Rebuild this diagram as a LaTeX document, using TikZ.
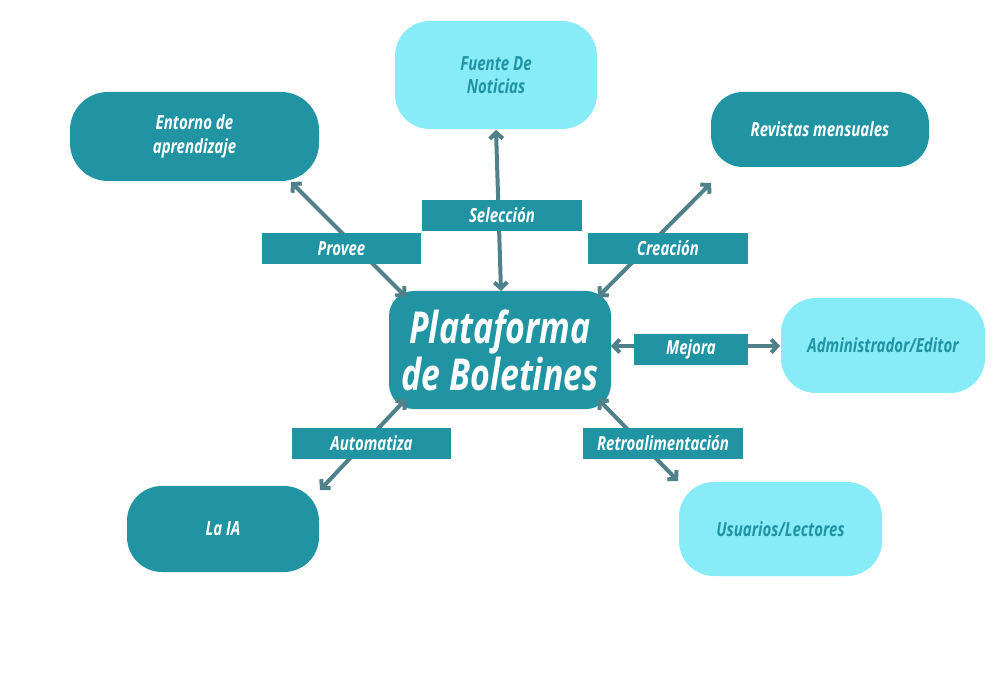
\documentclass[tikz,border=0pt]{standalone}
\usepackage{fontspec}
\setmainfont{Open Sans}[FakeStretch=0.77]
\usetikzlibrary{arrows.meta}
\definecolor{tealA}{RGB}{33,148,164}
\definecolor{cyanA}{RGB}{135,235,248}
\definecolor{arrC}{RGB}{80,128,137}
\tikzset{
  darkbox/.style={fill=tealA, text=white, align=center, inner sep=0pt, font=\fontsize{19.5}{23.5}\selectfont\bfseries\itshape},
  lightbox/.style={fill=cyanA, text=tealA, align=center, inner sep=0pt, font=\fontsize{19.5}{23.5}\selectfont\bfseries\itshape},
  lbl/.style={fill=tealA, text=white, align=center, inner sep=0pt, font=\fontsize{19.5}{23.5}\selectfont\bfseries\itshape},
  conn/.style={draw=arrC, line width=4pt, {Straight Barb[length=6pt,width=13pt]}-{Straight Barb[length=6pt,width=13pt]}}
}
\begin{document}
\begin{tikzpicture}[x=1pt,y=-1pt]
\useasboundingbox[fill=white] (0,0) rectangle (1000,700);
% main boxes
\node[darkbox, minimum width=222pt, minimum height=118pt, rounded corners=25pt, font=\fontsize{44}{47}\selectfont\bfseries\itshape] (center) at (500,350) {Plataforma\\de Boletines};
\node[darkbox, minimum width=249pt, minimum height=89pt, rounded corners=38pt] (entorno) at (194.5,136.5) {Entorno de\\aprendizaje};
\node[lightbox, minimum width=202pt, minimum height=108pt, rounded corners=35pt] (fuente) at (496,75) {Fuente De\\Noticias};
\node[darkbox, minimum width=218pt, minimum height=75pt, rounded corners=32pt] (revistas) at (820,129.5) {Revistas mensuales};
\node[lightbox, minimum width=204pt, minimum height=95pt, rounded corners=35pt] (admin) at (883,345.5) {Administrador/Editor};
\node[lightbox, minimum width=203pt, minimum height=94pt, rounded corners=35pt] (usuarios) at (780.5,529) {Usuarios/Lectores};
\node[darkbox, minimum width=192pt, minimum height=86pt, rounded corners=35pt] (laia) at (223,529) {La IA};
% connector end points
\coordinate (cN) at (501,291);
\coordinate (cNW) at (406,297);
\coordinate (cNE) at (598,297);
\coordinate (cE) at (611,346);
\coordinate (cSW) at (406,399);
\coordinate (cSE) at (598,399);
\coordinate (fS) at (496,130);
\coordinate (eSE) at (291,182);
\coordinate (rSW) at (711,183);
\coordinate (aW) at (780,346);
\coordinate (lNE) at (320,490);
\coordinate (uNW) at (678,481);
% connectors
\draw[conn] (fS) -- (cN);
\draw[conn] (eSE) -- (cNW);
\draw[conn] (rSW) -- (cNE);
\draw[conn] (cE) -- (aW);
\draw[conn] (lNE) -- (cSW);
\draw[conn] (uNW) -- (cSE);
% labels
\node[lbl, minimum width=160pt, minimum height=31pt] (sel) at (502,215.5) {Selección};
\node[lbl, minimum width=159pt, minimum height=31pt] (provee) at (341.5,248.5) {Provee};
\node[lbl, minimum width=160pt, minimum height=31pt] (creacion) at (668,248.5) {Creación};
\node[lbl, minimum width=114pt, minimum height=31pt] (mejora) at (691,349.5) {Mejora};
\node[lbl, minimum width=159pt, minimum height=31pt] (autom) at (371.5,443.5) {Automatiza};
\node[lbl, minimum width=160pt, minimum height=31pt] (retro) at (663,443.5) {Retroalimentación};
\end{tikzpicture}
\end{document}
